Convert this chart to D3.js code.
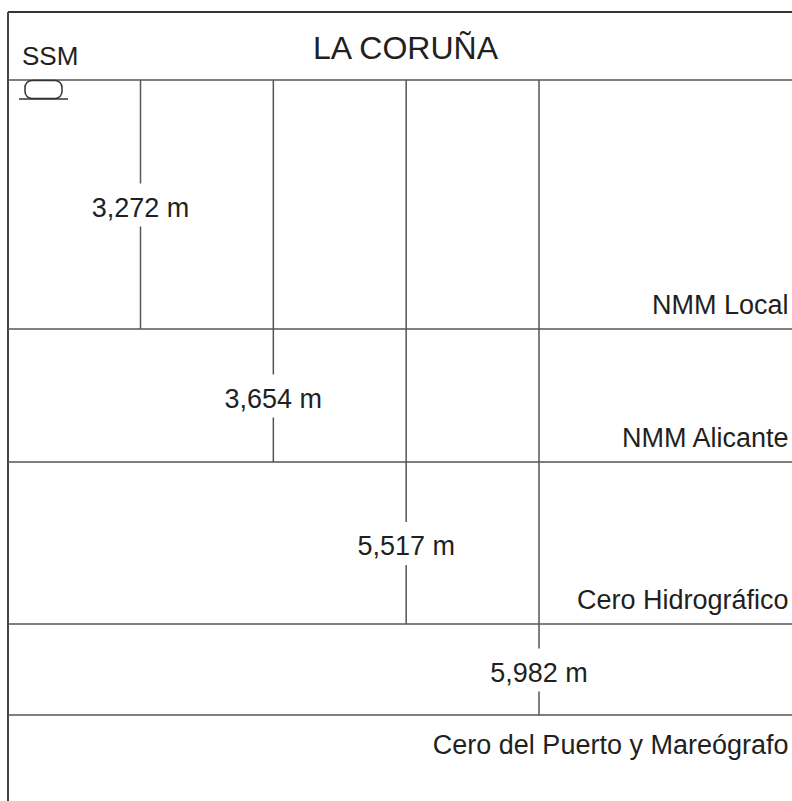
<!DOCTYPE html>
<html>
<head>
<meta charset="utf-8">
<script src="https://cdn.jsdelivr.net/npm/d3@7"></script>
<style>
  html, body { margin: 0; padding: 0; background: #fff; }
  svg { display: block; }
  text { font-family: "Liberation Sans", Arial, Helvetica, sans-serif; fill: #231f20; }
</style>
</head>
<body>
<svg id="chart" width="792" height="801"></svg>
<script>
// ---- data ----
const title = "LA CORUÑA";
const levels = ["SSM", "NMM Local", "NMM Alicante", "Cero Hidrográfico", "Cero del Puerto y Mareógrafo"];
const depths = [0, 3.272, 3.654, 5.517, 5.982];           // metres below SSM
const distLabels = ["3,272 m", "3,654 m", "5,517 m", "5,982 m"];

// ---- layout ----
const W = 792, H = 801;
const frameLeft = 8, frameTop = 12, frameRight = 792;
const lineColor = "#555";

const svg = d3.select("#chart");

// schematic (non-proportional) vertical scale: piecewise linear
const y = d3.scaleLinear().domain(depths).range([80, 329, 462, 624, 715]);
// horizontal positions of the measurement lines
const x = d3.scalePoint().domain(distLabels).range([140.5, 539]);

// frame: top and left borders
svg.append("line").attr("x1", frameLeft).attr("x2", frameRight).attr("y1", frameTop).attr("y2", frameTop)
  .attr("stroke", "#333").attr("stroke-width", 1.8);
svg.append("line").attr("x1", frameLeft).attr("x2", frameLeft).attr("y1", frameTop).attr("y2", H)
  .attr("stroke", "#444").attr("stroke-width", 2);

// title
svg.append("text").attr("x", 405.5).attr("y", 59).attr("text-anchor", "middle")
  .attr("font-size", 32).text(title);

// level lines
svg.selectAll("line.level").data(depths).enter().append("line")
  .attr("class", "level")
  .attr("x1", frameLeft).attr("x2", frameRight)
  .attr("y1", d => y(d)).attr("y2", d => y(d))
  .attr("stroke", lineColor).attr("stroke-width", 1.6);

// level labels
svg.selectAll("text.level").data(levels).enter().append("text")
  .attr("class", "level")
  .attr("font-size", (d, i) => i === 0 ? 26 : 27)
  .attr("x", (d, i) => i === 0 ? 22 : 788.5)
  .attr("text-anchor", (d, i) => i === 0 ? "start" : "end")
  .attr("y", (d, i) => i === levels.length - 1 ? y(depths[i]) + 39 : y(depths[i]) - 15)
  .text(d => d);

// tide gauge symbol under SSM
svg.append("rect").attr("x", 25).attr("y", y(0) + 0.5).attr("width", 37).attr("height", 18)
  .attr("rx", 7).attr("ry", 7).attr("fill", "none").attr("stroke", "#333").attr("stroke-width", 1.5);
svg.append("line").attr("x1", 19).attr("x2", 68).attr("y1", y(0) + 19).attr("y2", y(0) + 19)
  .attr("stroke", "#333").attr("stroke-width", 1.5);

// measurement lines with gaps for labels
const meas = distLabels.map((lab, i) => ({
  lab,
  start: y(depths[0]),
  end: y(depths[i + 1]),
  mid: (y(depths[i]) + y(depths[i + 1])) / 2
}));

const g = svg.selectAll("g.meas").data(meas).enter().append("g").attr("class", "meas");
g.append("line")
  .attr("x1", d => x(d.lab)).attr("x2", d => x(d.lab))
  .attr("y1", d => d.start).attr("y2", d => d.mid - 21)
  .attr("stroke", lineColor).attr("stroke-width", 1.5);
g.append("line")
  .attr("x1", d => x(d.lab)).attr("x2", d => x(d.lab))
  .attr("y1", d => d.mid + 22).attr("y2", d => d.end)
  .attr("stroke", lineColor).attr("stroke-width", 1.5);
g.append("text")
  .attr("x", d => x(d.lab)).attr("y", d => d.mid + 12)
  .attr("text-anchor", "middle").attr("font-size", 27)
  .text(d => d.lab);
</script>
</body>
</html>
